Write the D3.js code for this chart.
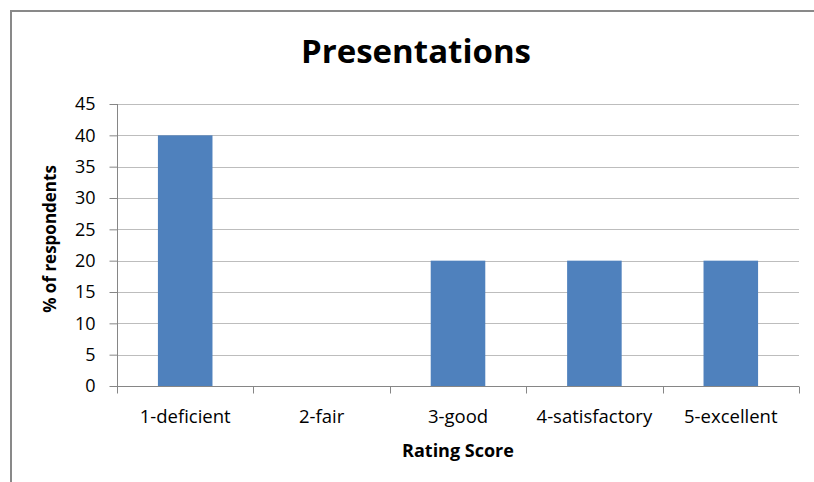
<!DOCTYPE html>
<html>
<head>
<meta charset="utf-8">
<script src="https://cdn.jsdelivr.net/npm/d3@7"></script>
<style>
  html, body { margin: 0; background: #fff; overflow: hidden; }
  svg { display: block; }
  text { font-family: "Open Sans", sans-serif; fill: #000; }
</style>
</head>
<body>
<div id="chart"></div>
<script>
// chart data
var categories = ["1-deficient", "2-fair", "3-good", "4-satisfactory", "5-excellent"]
var values = [40, 0, 20, 20, 20]
var yTicks = [0, 5, 10, 15, 20, 25, 30, 35, 40, 45]

var width = 814,
    height = 482
var margin = {top: 104, right: 15, bottom: 96, left: 117}

var svg = d3.select("#chart")
  .append("svg")
    .attr("width", width)
    .attr("height", height)

// outer chart border: only the top and left edges show in the picture
svg.append("path")
  .attr("d", "M11," + height + "V11H" + width)
  .attr("fill", "none")
  .attr("stroke", "#898989")
  .attr("stroke-width", 2)

var x = d3.scaleBand()
  .domain(categories)
  .range([margin.left, width - margin.right])
  .paddingInner(0.6)
  .paddingOuter(0.3)

var xTick = d3.scaleBand()
  .domain(categories)
  .range([margin.left, width - margin.right])

var y = d3.scaleLinear()
  .domain([0, 45])
  .range([height - margin.bottom, margin.top])

// gridlines
svg.append("g")
  .selectAll("line")
  .data(yTicks.slice(1))
  .join("line")
    .attr("x1", margin.left)
    .attr("x2", width - margin.right)
    .attr("y1", function(d) { return Math.round(y(d)) + 0.5 })
    .attr("y2", function(d) { return Math.round(y(d)) + 0.5 })
    .attr("stroke", "#bdbdbd")

// bars
svg.append("g")
  .selectAll("rect")
  .data(values)
  .join("rect")
    .attr("x", function(d, i) { return x(categories[i]) })
    .attr("y", function(d) { return y(d) })
    .attr("width", x.bandwidth())
    .attr("height", function(d) { return y(0) - y(d) })
    .attr("fill", "#4f81bd")

// y axis
var yAxis = svg.append("g")
  .attr("transform", "translate(" + (margin.left + 0.5) + ",0)")
  .call(d3.axisLeft(y).tickValues(yTicks).tickSize(8).tickPadding(14).tickSizeOuter(0))
yAxis.selectAll("line, path").attr("stroke", "#868686")
yAxis.selectAll("text").style("font-size", "18px").attr("fill", "#000")
yAxis.select(".domain").attr("d", "M0," + y(45) + "V" + (y(0) + 7))

// x axis: ticks sit between categories
var xAxis = svg.append("g")
  .attr("transform", "translate(0," + (Math.round(y(0)) + 0.5) + ")")
xAxis.append("line")
  .attr("x1", margin.left).attr("x2", width - margin.right)
  .attr("stroke", "#868686")
xAxis.selectAll(".tk")
  .data(categories.map(function(c) { return xTick(c) }).concat([width - margin.right]))
  .join("line")
    .attr("class", "tk")
    .attr("x1", function(d) { return Math.round(d) + 0.5 })
    .attr("x2", function(d) { return Math.round(d) + 0.5 })
    .attr("y1", 0).attr("y2", 7)
    .attr("stroke", "#868686")
xAxis.selectAll(".lbl")
  .data(categories)
  .join("text")
    .attr("class", "lbl")
    .attr("x", function(d) { return xTick(d) + xTick.bandwidth() / 2 })
    .attr("y", 36)
    .attr("text-anchor", "middle")
    .style("font-size", "18.5px")
    .text(function(d) { return d })

// title and axis titles
svg.append("text")
  .attr("x", 416).attr("y", 63)
  .attr("text-anchor", "middle")
  .style("font-size", "33px")
  .style("font-weight", "bold")
  .text("Presentations")

svg.append("text")
  .attr("x", (margin.left + width - margin.right) / 2).attr("y", 457)
  .attr("text-anchor", "middle")
  .style("font-size", "18px")
  .style("font-weight", "bold")
  .text("Rating Score")

svg.append("text")
  .attr("transform", "translate(56,239) rotate(-90)")
  .attr("text-anchor", "middle")
  .style("font-size", "17px")
  .style("font-weight", "bold")
  .text("% of respondents")
</script>
</body>
</html>
